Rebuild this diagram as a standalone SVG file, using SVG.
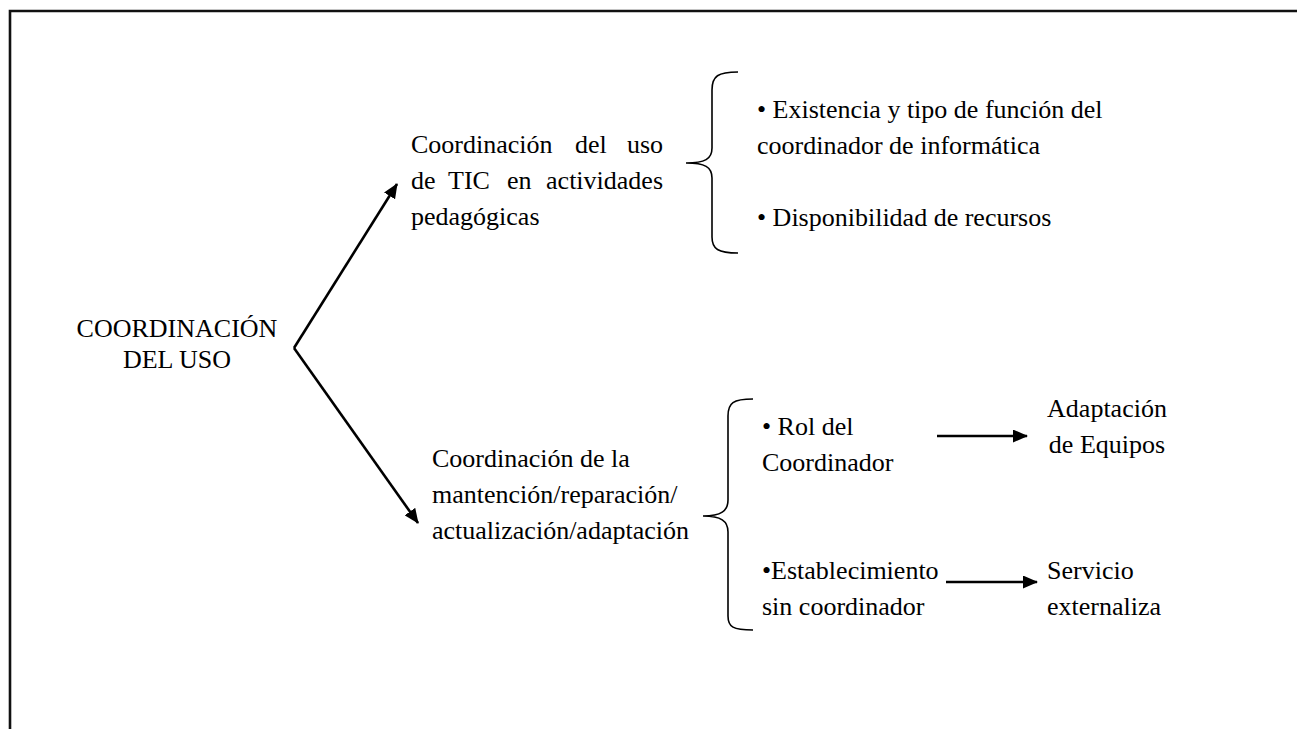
<svg xmlns="http://www.w3.org/2000/svg" width="1297" height="729" viewBox="0 0 1297 729" font-family="'Liberation Serif','Times New Roman','DejaVu Serif',serif">
<defs>
<marker id="ah" viewBox="0 0 15 13" refX="14" refY="6.5" markerWidth="15" markerHeight="13" orient="auto" markerUnits="userSpaceOnUse"><path d="M0,0 L15,6.5 L0,13 z" fill="#000"/></marker>
</defs>
<style>
text{font-family:'Liberation Serif','Times New Roman','DejaVu Serif',serif;font-size:26px;fill:#000}
.ln{stroke:#000;stroke-width:2.6;fill:none}
.br{stroke:#000;stroke-width:1.6;fill:none}
</style>
<rect width="1297" height="729" fill="#fff"/>
<path d="M10,729 V11 H1297" stroke="#111" stroke-width="2.6" fill="none"/>
<g id="connectors">
<path class="ln" d="M294,348 L397,184" marker-end="url(#ah)"/>
<path class="ln" d="M294,348 L418,523" marker-end="url(#ah)"/>
<path class="ln" d="M937,436 H1027" marker-end="url(#ah)"/>
<path class="ln" d="M946,582 H1037" marker-end="url(#ah)"/>
<path class="br" d="M738,72 C718,72 712,76 712,90 V148 C712,159 705,163 686,163 C705,163 712,167 712,178 V237 C712,249 718,253 738,253"/>
<path class="br" d="M753,399 C733,399 728,403 728,416 V500 C728,511 721,516 703,516 C721,516 728,521 728,532 V616 C728,627 733,630 753,630"/>
</g>
<g id="root"><text x="177" y="337" text-anchor="middle">COORDINACIÓN</text><text x="177" y="368" text-anchor="middle">DEL USO</text></g>
<g id="n1">
<text y="153"><tspan x="411">Coordinación</tspan><tspan x="575">del</tspan><tspan x="663" text-anchor="end">uso</tspan></text>
<text y="189"><tspan x="411">de</tspan><tspan x="448">TIC</tspan><tspan x="507">en</tspan><tspan x="663" text-anchor="end">actividades</tspan></text>
<text x="411" y="225">pedagógicas</text>
</g>
<g id="n2"><text x="757" y="118">• Existencia y tipo de función del</text><text x="757" y="154">coordinador de informática</text><text x="757" y="226">• Disponibilidad de recursos</text></g>
<g id="n3"><text x="432" y="467">Coordinación de la</text><text x="432" y="503">mantención/reparación/</text><text x="432" y="539">actualización/adaptación</text></g>
<g id="n4"><text x="762" y="435">• Rol del</text><text x="762" y="471">Coordinador</text></g>
<g id="n5"><text x="762" y="579">•Establecimiento</text><text x="762" y="615">sin coordinador</text></g>
<g id="n6"><text x="1107" y="417" text-anchor="middle">Adaptación</text><text x="1107" y="453" text-anchor="middle">de Equipos</text></g>
<g id="n7"><text x="1047" y="579">Servicio</text><text x="1047" y="615">externaliza</text></g>
</svg>
